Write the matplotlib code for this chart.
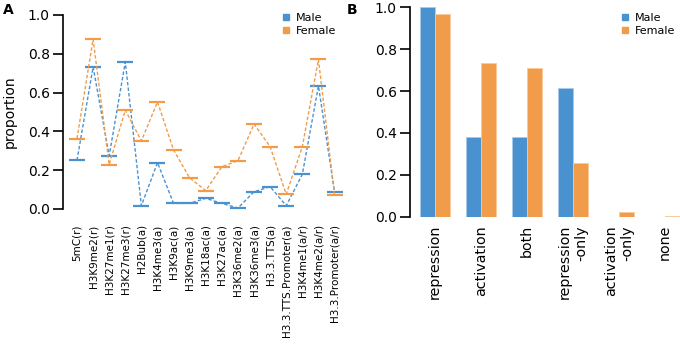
import matplotlib
matplotlib.use("Agg")
import matplotlib.pyplot as plt
from matplotlib.lines import Line2D
import numpy as np

# ---- data ----
marks = ["5mC(r)", "H3K9me2(r)", "H3K27me1(r)", "H3K27me3(r)", "H2Bub(a)",
         "H3K4me3(a)", "H3K9ac(a)", "H3K9me3(a)", "H3K18ac(a)", "H3K27ac(a)",
         "H3K36me2(a)", "H3K36me3(a)", "H3.3.TTS(a)", "H3.3.TTS.Promoter(a)",
         "H3K4me1(a/r)", "H3K4me2(a/r)", "H3.3.Promoter(a/r)"]
male_a = [0.251, 0.732, 0.275, 0.758, 0.017, 0.239, 0.029, 0.029, 0.055,
          0.029, 0.005, 0.089, 0.115, 0.017, 0.179, 0.634, 0.089]
female_a = [0.363, 0.875, 0.229, 0.510, 0.351, 0.552, 0.304, 0.160, 0.095,
            0.218, 0.249, 0.438, 0.321, 0.076, 0.321, 0.771, 0.072]

groups = ["repression", "activation", "both", "repression\n-only",
          "activation\n-only", "none"]
male_b = [1.0, 0.382, 0.382, 0.616, 0.0, 0.0]
female_b = [0.970, 0.736, 0.710, 0.258, 0.024, 0.003]

BLUE = "#4a91d0"
ORANGE = "#f09c4a"
W, H = 680, 351

fig = plt.figure(figsize=(W / 100, H / 100), dpi=100)

def px_axes(left, right, top, bottom):
    return fig.add_axes([left / W, (H - bottom) / H, (right - left) / W, (bottom - top) / H])

yt = np.arange(0, 1.01, 0.2)
ytl = [f"{v:.1f}" for v in yt]

# ---- Panel A ----
axA = px_axes(63, 345, 15, 209)
x = np.arange(len(marks))
for vals, col in [(male_a, BLUE), (female_a, ORANGE)]:
    axA.plot(x, vals, linestyle=(0, (2.5, 1.5)), color=col, lw=1.0,
             marker="_", markersize=11, markeredgewidth=1.6, clip_on=False)
axA.set_xlim(-0.87, 16.65)
axA.set_ylim(0, 1)
axA.set_xticks(x)
axA.set_xticklabels(marks, rotation=90, fontsize=7.5)
axA.tick_params(axis="x", length=0, pad=11)
axA.set_yticks(yt)
axA.set_yticklabels(ytl, fontsize=10)
axA.tick_params(axis="y", length=7, width=1.2, pad=2.5)
axA.set_ylabel("proportion", fontsize=10, labelpad=8)
for s in ["top", "right", "bottom"]:
    axA.spines[s].set_visible(False)
axA.spines["left"].set_linewidth(1.2)

handles = [Line2D([], [], marker="s", linestyle="none", color=BLUE, markersize=4.5),
           Line2D([], [], marker="s", linestyle="none", color=ORANGE, markersize=4.5)]
axA.legend(handles, ["Male", "Female"], loc="upper right", bbox_to_anchor=(1.005, 1.06),
           frameon=False, fontsize=8, handlelength=1.0, handletextpad=0.4,
           labelspacing=0.25)

# ---- Panel B ----
axB = px_axes(410, 680, 7.3, 216.7)
xb = np.arange(len(groups))
bw = 0.33
axB.bar(xb - bw / 2, male_b, width=bw, color=BLUE, edgecolor="#a8cbeb", linewidth=0.6)
axB.bar(xb + bw / 2, female_b, width=bw, color=ORANGE, edgecolor="#f8c99a", linewidth=0.6)
axB.set_xlim(-0.54, 5.33)
axB.set_ylim(0, 1)
axB.set_xticks(xb)
axB.set_xticklabels(groups, rotation=90, fontsize=10.3, multialignment="right")
axB.tick_params(axis="x", length=0, pad=6)
axB.set_yticks(yt)
axB.set_yticklabels(ytl, fontsize=10)
axB.tick_params(axis="y", length=7, width=1.2, pad=2.5)
for s in ["top", "right", "bottom"]:
    axB.spines[s].set_visible(False)
axB.spines["left"].set_linewidth(1.2)
axB.legend(handles, ["Male", "Female"], loc="upper right", bbox_to_anchor=(1.02, 1.02),
           frameon=False, fontsize=8, handlelength=1.0, handletextpad=0.4,
           labelspacing=0.25)

fig.text(3 / W, 1 - 3 / H, "A", fontsize=10, fontweight="bold", va="top", ha="left")
fig.text(347 / W, 1 - 3 / H, "B", fontsize=10, fontweight="bold", va="top", ha="left")

fig.savefig("out.png", dpi=100)
